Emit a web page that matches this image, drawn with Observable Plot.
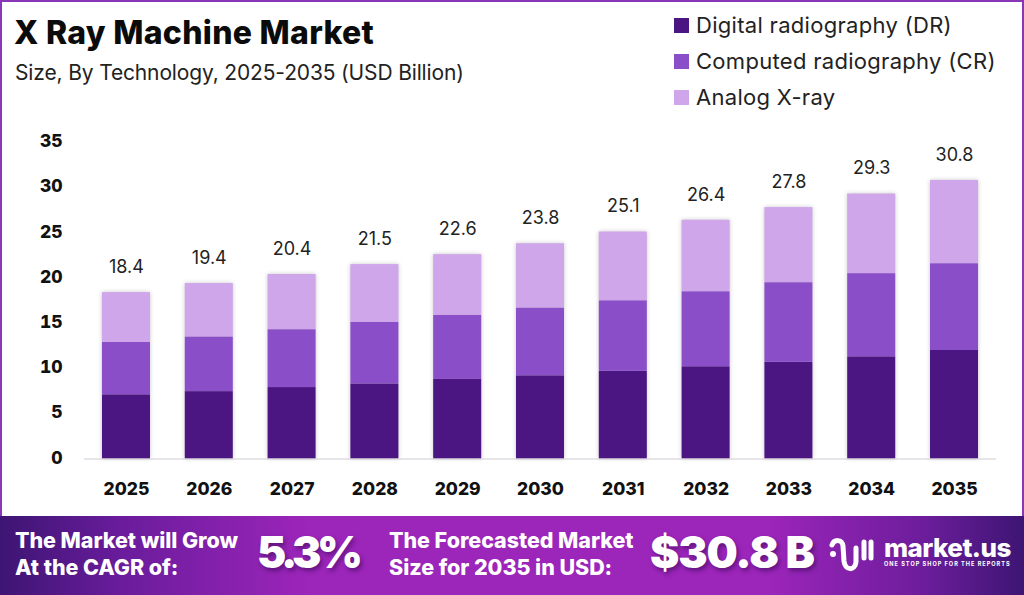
<!DOCTYPE html>
<html>
<head>
<meta charset="utf-8">
<script src="https://cdn.jsdelivr.net/npm/d3@7"></script>
<script src="https://cdn.jsdelivr.net/npm/@observablehq/plot@0.6"></script>
<style>
html,body{margin:0;padding:0;background:#fff}
#page{position:relative;width:1024px;height:595px;overflow:hidden;font-family:Inter,"Noto Sans",sans-serif;color:#111;background:#fff}
#frame{position:absolute;left:0;top:0;width:1024px;height:516px;box-sizing:border-box;border:2px solid #8a36b8;border-bottom:none}
.t{position:absolute;white-space:nowrap;line-height:1}
#title{left:14px;top:17px;font-size:32px;font-weight:800;letter-spacing:.3px;color:#0b0b0b}
#subtitle{left:15px;top:62px;font-size:21px;font-weight:400;letter-spacing:-.15px;color:#222}
.sw{position:absolute;left:674px;width:15px;height:15px}
.lg{left:696px;font-size:22px;font-weight:400;letter-spacing:.3px;color:#222}
#chart{position:absolute;left:0;top:120px}
#chart g[aria-label="bar"]{filter:drop-shadow(0 0 2px rgba(120,110,130,.4))}
#footer{position:absolute;left:0;top:516px;width:1024px;height:79px;background:linear-gradient(90deg,#3d1573 0%,#6a1c9c 12%,#9c25ba 30%,#9c25ba 75%,#6d1d9c 90%,#3d1573 100%)}
.f{color:#fff;font-weight:800;font-size:21.5px;letter-spacing:-.05px}
.big{color:#fff;font-weight:900;font-size:44px;text-shadow:2px 3px 4px rgba(50,10,80,.55)}
</style>
</head>
<body>
<div id="page">
  <div id="frame"></div>
  <div class="t" id="title">X Ray Machine Market</div>
  <div class="t" id="subtitle">Size, By Technology, 2025-2035 (USD Billion)</div>
  <div id="legend"></div>
  <div id="chart"></div>
  <div id="footer"></div>
  <div class="t f" style="left:15px;top:530px">The Market will Grow</div>
  <div class="t f" style="left:15px;top:557px">At the CAGR of:</div>
  <div class="t big" style="left:257px;top:530px;letter-spacing:-4.5px">5.3%</div>
  <div class="t f" style="left:389px;top:530px">The Forecasted Market</div>
  <div class="t f" style="left:389px;top:557px">Size for 2035 in USD:</div>
  <div class="t big" style="left:650px;top:530px;letter-spacing:-1.1px">$30.8 B</div>
  <svg style="position:absolute;left:828px;top:537px" width="46" height="36" viewBox="0 0 46 36" fill="none" stroke="#fff" stroke-width="5" stroke-linecap="round">
    <circle cx="5" cy="17" r="3" fill="#fff" stroke="none"/>
    <path d="M4 8 C6 2 14 2 15 9 L16 24 C17 34 27 34 28 25 L28 11"/>
    <path d="M36 5 L36 21"/>
    <path d="M43 5 L43 21"/>
  </svg>
  <div class="t" style="left:884px;top:535px;font-size:26px;font-weight:800;color:#fff;letter-spacing:-.55px">market.us</div>
  <div class="t" style="left:884px;top:562px;font-size:5.6px;font-weight:700;color:#fff;letter-spacing:.98px">ONE STOP SHOP FOR THE REPORTS</div>
</div>
<script>
const years = ["2025","2026","2027","2028","2029","2030","2031","2032","2033","2034","2035"];
const technologies = ["Digital radiography (DR)","Computed radiography (CR)","Analog X-ray"];
const colors = ["#4b1682","#8a4fc8","#cfa6ea"];
const digital  = [7.1,7.45,7.9,8.3,8.8,9.2,9.7,10.2,10.7,11.3,12.0];
const computed = [5.8,6.05,6.4,6.8,7.1,7.5,7.8,8.3,8.8,9.2,9.6];
const analog   = [5.5,5.9,6.1,6.4,6.7,7.1,7.6,7.9,8.3,8.8,9.2];
const totals   = [18.4,19.4,20.4,21.5,22.6,23.8,25.1,26.4,27.8,29.3,30.8];
const yTicks   = [0,5,10,15,20,25,30,35];

const series = [digital, computed, analog];
const rows = technologies.flatMap((tech, s) =>
  years.map((year, i) => ({year, tech, value: series[s][i]})));
const labels = years.map((year, i) => ({year, total: totals[i]}));

const plot = Plot.plot({
  width: 1024,
  height: 385,
  marginLeft: 84,
  marginRight: 28,
  marginTop: 22,
  marginBottom: 46.5,
  style: {background: "transparent", fontFamily: "Inter, sans-serif", overflow: "visible"},
  x: {domain: years, paddingInner: 0.42, paddingOuter: 0.217, round: false, label: null},
  y: {domain: [0, 35], label: null},
  color: {domain: technologies, range: colors},
  marks: [
    Plot.barY(rows, Plot.stackY({x: "year", y: "value", fill: "tech", order: technologies})),
    Plot.ruleY([0], {stroke: "#cfcbd3", strokeWidth: 1.2}),
    Plot.text(labels, {x: "year", y: "total", text: d => d.total.toFixed(1), dy: -25.5,
      fontSize: 18, fontWeight: 400, fill: "#222"}),
    Plot.axisY({ticks: yTicks, tickSize: 0, tickPadding: 22, label: null, dy: -1,
      fontSize: 17.5, fontWeight: 800, fill: "#111"}),
    Plot.axisX({tickSize: 0, tickPadding: 24, label: null,
      fontSize: 17.5, fontWeight: 800, fill: "#111"})
  ]
});
document.getElementById("chart").appendChild(plot);

const legend = document.getElementById("legend");
technologies.forEach((tech, i) => {
  const cy = 25 + i * 36;
  const sw = document.createElement("div");
  sw.className = "sw";
  sw.style.top = (cy - 7.5) + "px";
  sw.style.background = colors[i];
  legend.appendChild(sw);
  const tx = document.createElement("div");
  tx.className = "t lg";
  tx.style.top = (cy - 11) + "px";
  tx.textContent = tech;
  legend.appendChild(tx);
});
</script>
</body>
</html>
